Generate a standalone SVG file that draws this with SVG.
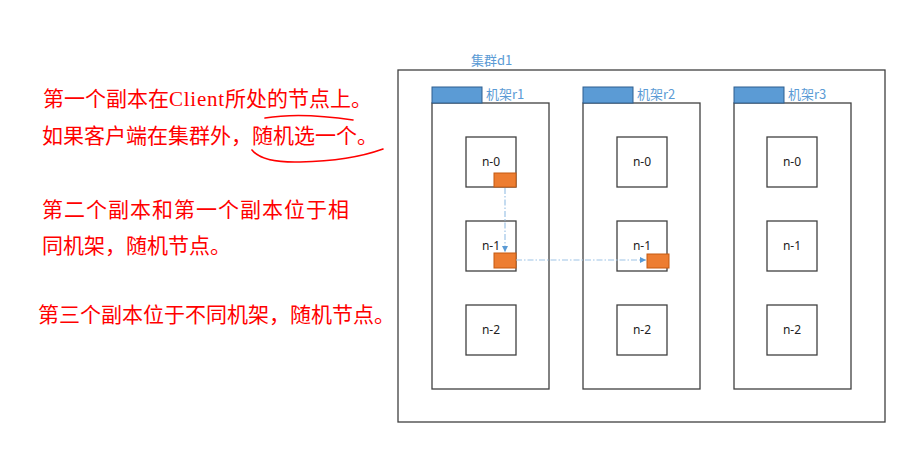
<svg xmlns="http://www.w3.org/2000/svg" width="919" height="465" viewBox="0 0 919 465">
<style>
.note{font-family:"Noto Sans CJK SC","Noto Sans",sans-serif;font-size:21px;fill:#ff0000}
.lat{font-family:"Liberation Serif",serif}
.blue{font-family:"Noto Sans CJK SC","Noto Sans",sans-serif;font-size:13px;fill:#5b9bd5}
.box{fill:#ffffff;stroke:#404040;stroke-width:1.3}
.hdr{fill:#5b9bd5;stroke:#2f5f8f;stroke-width:1}
.blk{fill:#ed7d31;stroke:#c55a11;stroke-width:1}
.lbl{font-family:"Noto Sans","Open Sans",sans-serif;font-size:12px;fill:#222;text-anchor:middle}
.flow{fill:none;stroke:#9dc3e6;stroke-width:1.2;stroke-dasharray:6 2 1.5 2}
.ink{fill:none;stroke:#ff0000;stroke-width:1.6;stroke-linecap:round}
</style>
<defs>
<marker id="ah" viewBox="0 0 10 10" refX="10" refY="5" markerWidth="6" markerHeight="6" markerUnits="userSpaceOnUse" orient="auto">
<path d="M0,0 L10,5 L0,10 z" fill="#5b9bd5"/>
</marker>
</defs>
<rect width="919" height="465" fill="#ffffff"/>

<g id="notes">
<text class="note" x="43" y="106">第一个副本在<tspan class="lat" x="169" textLength="55">Client</tspan><tspan x="225">所处的节点上。</tspan></text>
<text class="note" x="42" y="143">如果客户端在集群外，随机选一个。</text>
<text class="note" x="42" y="217" textLength="307">第二个副本和第一个副本位于相</text>
<text class="note" x="42" y="253">同机架，随机节点。</text>
<text class="note" x="38" y="322">第三个副本位于不同机架，随机节点。</text>
<path class="ink" d="M265,118 Q300,112 353,120"/>
<path class="ink" d="M252,150 Q262,163 300,162 Q350,161 383,149"/>
</g>

<g id="cluster-d1">
<rect class="box" x="398" y="70" width="487" height="352"/>
<text class="blue" x="471" y="65" font-size="14">集群d1</text>
</g>

<g id="rack-r1">
<rect class="box" x="432" y="103" width="117" height="286"/>
<rect class="hdr" x="432" y="87" width="50" height="16"/>
<text class="blue" x="486" y="99">机架r1</text>
</g>
<g id="rack-r2">
<rect class="box" x="583" y="103" width="117" height="286"/>
<rect class="hdr" x="583" y="87" width="50" height="16"/>
<text class="blue" x="637" y="99">机架r2</text>
</g>
<g id="rack-r3">
<rect class="box" x="734" y="103" width="117" height="286"/>
<rect class="hdr" x="734" y="87" width="50" height="16"/>
<text class="blue" x="788" y="99">机架r3</text>
</g>

<g id="r1-n0"><rect class="box" x="466" y="137" width="50" height="50"/><text class="lbl" x="491" y="166">n-0</text><rect class="blk" x="494" y="173" width="22" height="14"/></g>
<g id="r1-n1"><rect class="box" x="466" y="221" width="50" height="50"/><text class="lbl" x="491" y="250">n-1</text><rect class="blk" x="494" y="253" width="22" height="15"/></g>
<g id="r1-n2"><rect class="box" x="466" y="305" width="50" height="50"/><text class="lbl" x="491" y="334">n-2</text></g>

<g id="r2-n0"><rect class="box" x="617" y="137" width="50" height="50"/><text class="lbl" x="642" y="166">n-0</text></g>
<g id="r2-n1"><rect class="box" x="617" y="221" width="50" height="50"/><text class="lbl" x="642" y="250">n-1</text><rect class="blk" x="647" y="254" width="22" height="14"/></g>
<g id="r2-n2"><rect class="box" x="617" y="305" width="50" height="50"/><text class="lbl" x="642" y="334">n-2</text></g>

<g id="r3-n0"><rect class="box" x="767" y="137" width="50" height="50"/><text class="lbl" x="792" y="166">n-0</text></g>
<g id="r3-n1"><rect class="box" x="767" y="221" width="50" height="50"/><text class="lbl" x="792" y="250">n-1</text></g>
<g id="r3-n2"><rect class="box" x="767" y="305" width="50" height="50"/><text class="lbl" x="792" y="334">n-2</text></g>

<g id="connectors">
<path class="flow" d="M505,188 L505,252" marker-end="url(#ah)"/>
<path class="flow" d="M516,260 L646,260" marker-end="url(#ah)"/>
</g>
</svg>
